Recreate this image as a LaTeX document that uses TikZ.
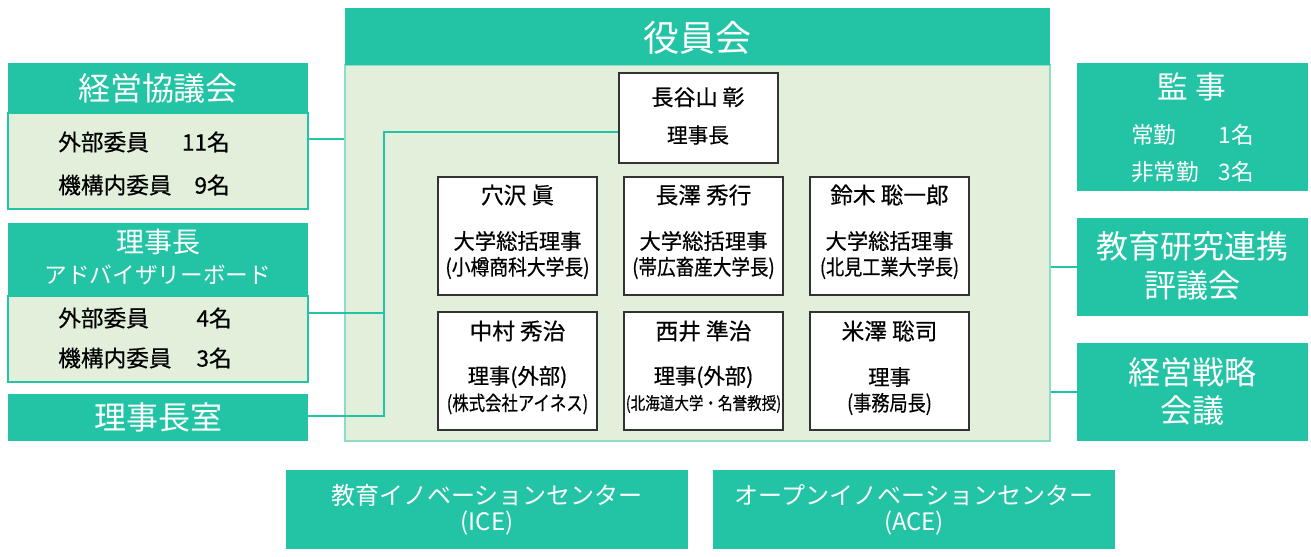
\documentclass[tikz,border=0pt]{standalone}
\usepackage{fontspec}
\usepackage{graphicx}
\setmainfont{Noto Sans CJK JP}
\usetikzlibrary{fit}
\definecolor{teal1}{RGB}{35,195,165}
\definecolor{teal2}{RGB}{140,220,200}
\definecolor{lg}{RGB}{226,239,218}
\newcommand{\fs}[2]{\fontsize{#1}{#2}\selectfont}
\newcommand{\nar}[2]{\scalebox{#1}[1]{#2}}
\begin{document}
\begin{tikzpicture}[x=0.75pt,y=-0.75pt,
  hdr/.style={fill=teal1, draw=none, inner sep=0pt},
  body/.style={fill=lg, draw=teal1, line width=1.5pt, inner sep=0pt},
  wbox/.style={fill=white, draw=black!80, line width=0.9pt, inner sep=0pt},
  txt/.style={inner sep=0pt, text=black, execute at begin node={\addfontfeature{FakeBold=0.5}}},
  wtxt/.style={inner sep=0pt, text=white},
  conn/.style={draw=teal1, line width=2pt}]
\useasboundingbox (0,0) rectangle (1311,557);

% ===== 役員会 =====
\node[body, draw=teal2, fit={(345,65)(1050,441)}] (ybody) {};
\node[hdr, fit={(345,8)(1050,65)}] (yhdr) {};
\node[wtxt, font=\fs{27}{30}] (yhdrT) at (697.5,38) {役員会};

% chair
\node[wbox, fit={(619,73)(778,163)}] (chair) {};
\node[txt, font=\fs{16.5}{18}] (chairN) at (698,97) {長谷山 彰};
\node[txt, font=\fs{15.5}{18}] (chairT) at (698,135) {理事長};

% row 1
\node[wbox, fit={(438,177)(597,295)}] (m1) {};
\node[txt, font=\fs{17}{18}] (m1n) at (517.5,195) {穴沢 眞};
\node[txt, font=\fs{16}{18}] (m1t) at (517.5,241) {大学総括理事};
\node[txt, font=\fs{16}{18}] (m1s) at (517.5,268) {\nar{0.88}{(小樽商科大学長)}};

\node[wbox, fit={(624,177)(783,295)}] (m2) {};
\node[txt, font=\fs{17}{18}] (m2n) at (703.5,195) {長澤 秀行};
\node[txt, font=\fs{16}{18}] (m2t) at (703.5,241) {大学総括理事};
\node[txt, font=\fs{16}{18}] (m2s) at (703.5,268) {\nar{0.87}{(帯広畜産大学長)}};

\node[wbox, fit={(810,177)(969,295)}] (m3) {};
\node[txt, font=\fs{17}{18}] (m3n) at (889.5,195) {鈴木 聡一郎};
\node[txt, font=\fs{16}{18}] (m3t) at (889.5,241) {大学総括理事};
\node[txt, font=\fs{16}{18}] (m3s) at (889.5,268) {\nar{0.85}{(北見工業大学長)}};

% row 2
\node[wbox, fit={(438,312)(597,430)}] (m4) {};
\node[txt, font=\fs{17}{18}] (m4n) at (517.5,331) {中村 秀治};
\node[txt, font=\fs{16}{18}] (m4t) at (517.5,377) {理事(外部)};
\node[txt, font=\fs{15}{18}] (m4s) at (517.5,404) {\nar{0.82}{(株式会社アイネス)}};

\node[wbox, fit={(624,312)(783,430)}] (m5) {};
\node[txt, font=\fs{17}{18}] (m5n) at (703.5,331) {西井 準治};
\node[txt, font=\fs{16}{18}] (m5t) at (703.5,377) {理事(外部)};
\node[txt, font=\fs{13}{15}] (m5s) at (703.5,404) {\nar{0.84}{(北海道大学・名誉教授)}};

\node[wbox, fit={(810,312)(969,430)}] (m6) {};
\node[txt, font=\fs{17}{18}] (m6n) at (889.5,331) {米澤 聡司};
\node[txt, font=\fs{16}{18}] (m6t) at (889.5,377) {理事};
\node[txt, font=\fs{16}{18}] (m6s) at (889.5,404) {\nar{0.85}{(事務局長)}};

% ===== left =====
\node[body, fit={(8,113)(308,209)}] (kb) {};
\node[hdr, fit={(8,63)(308,113)}] (kh) {};
\node[wtxt, font=\fs{24}{28}] (khT) at (158,88) {経営協議会};
\node[txt, anchor=west, font=\fs{17}{20}] (kb1) at (58,142) {外部委員};
\node[txt, anchor=east, font=\fs{17}{20}] (kb2) at (230,142) {11名};
\node[txt, anchor=west, font=\fs{17}{20}] (kb3) at (58,185) {機構内委員};
\node[txt, anchor=east, font=\fs{17}{20}] (kb4) at (230,185) {9名};

\node[body, fit={(8,296)(308,382)}] (abb) {};
\node[hdr, fit={(8,223)(308,296)}] (abh) {};
\node[wtxt, font=\fs{21}{24}] (abh1) at (158,242) {理事長};
\node[wtxt, font=\fs{17}{20}] (abh2) at (158,275) {アドバイザリーボード};
\node[txt, anchor=west, font=\fs{17}{20}] (ab1) at (58,318) {外部委員};
\node[txt, anchor=east, font=\fs{17}{20}] (ab2) at (232,318) {4名};
\node[txt, anchor=west, font=\fs{17}{20}] (ab3) at (58,358) {機構内委員};
\node[txt, anchor=east, font=\fs{17}{20}] (ab4) at (232,358) {3名};

\node[hdr, fit={(8,394)(308,441)}] (rs) {};
\node[wtxt, font=\fs{24}{28}] (rsT) at (158,417) {理事長室};

% ===== right =====
\node[hdr, fit={(1077,63)(1308,191)}] (ks) {};
\node[wtxt, font=\fs{23}{26}] (ks1) at (1192,87) {監 事};
\node[wtxt, anchor=west, font=\fs{17}{20}] (ks2) at (1131,135) {常勤};
\node[wtxt, anchor=east, font=\fs{17}{20}] (ks3) at (1254,135) {1名};
\node[wtxt, anchor=west, font=\fs{17}{20}] (ks4) at (1131,172) {非常勤};
\node[wtxt, anchor=east, font=\fs{17}{20}] (ks5) at (1254,172) {3名};

\node[hdr, fit={(1077,218)(1308,316)}] (kyo) {};
\node[wtxt, font=\fs{24}{28}] (kyo1) at (1192.5,246) {教育研究連携};
\node[wtxt, font=\fs{24}{28}] (kyo2) at (1192.5,285) {評議会};
\node[hdr, fit={(1077,343)(1308,441)}] (sen) {};
\node[wtxt, font=\fs{24}{28}] (sen1) at (1192.5,372) {経営戦略};
\node[wtxt, font=\fs{24}{28}] (sen2) at (1192.5,410) {会議};

% ===== bottom =====
\node[hdr, fit={(286,470)(688,549)}] (ice) {};
\node[wtxt, font=\fs{18}{20}] (ice1) at (487,495) {教育イノベーションセンター};
\node[wtxt, font=\fs{18}{20}] (ice2) at (487,523) {(ICE)};
\node[hdr, fit={(713,470)(1115,549)}] (ace) {};
\node[wtxt, font=\fs{18}{20}] (ace1) at (914,495) {オープンイノベーションセンター};
\node[wtxt, font=\fs{18}{20}] (ace2) at (914,523) {(ACE)};

% ===== connectors =====
\coordinate (kl) at (0,139);
\draw[conn] (kb.east |- kl) -- (ybody.west |- kl);
\coordinate (vtop) at (384,132);
\coordinate (vbot) at (384,416);
\coordinate (abl) at (384,313);
\draw[conn] (chair.west |- vtop) -- (vtop) -- (vbot) -- (rs.east |- vbot);
\draw[conn] (abb.east |- abl) -- (abl);
\coordinate (r1) at (0,267);
\coordinate (r2) at (0,392);
\draw[conn] (ybody.east |- r1) -- (kyo.west |- r1);
\draw[conn] (ybody.east |- r2) -- (sen.west |- r2);
\end{tikzpicture}
\end{document}
